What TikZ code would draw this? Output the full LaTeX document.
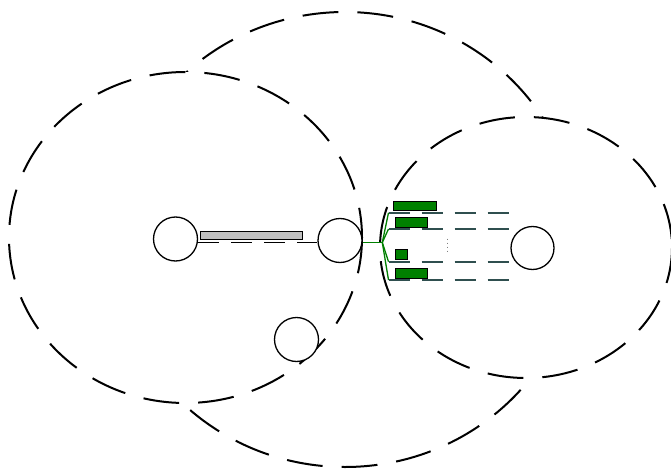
\documentclass[tikz,border=0pt]{standalone}
\usetikzlibrary{shapes.geometric}
\definecolor{dgreen}{RGB}{0,128,0}
\definecolor{dslate}{RGB}{47,79,79}
\definecolor{silverc}{RGB}{192,192,192}
\tikzset{
  region/.style={draw=black, line width=2pt, dash pattern=on 36pt off 19pt},
  regionfill/.style={region, fill=white},
  hostc/.style={circle, draw=black, line width=1.3pt, minimum size=44pt, inner sep=0pt, fill=white},
  gbox/.style={draw=black, line width=0.9pt, fill=dgreen, inner sep=0pt},
  gline/.style={draw=dgreen, line width=1.3pt},
  tline/.style={draw=dslate, line width=1.8pt, dash pattern=on 21pt off 12pt},
  bline/.style={draw=black, line width=1.5pt, dash pattern=on 21pt off 12pt},
}
\begin{document}
\begin{tikzpicture}[x=1pt,y=-1pt]
\useasboundingbox (0,0) rectangle (671,470);
% regions
\draw[region] (345,239.5) ellipse [x radius=234, y radius=227.5];
\draw[regionfill] (185.5,237.5) ellipse [x radius=176.5, y radius=165.5];
\draw[regionfill] (526,247.5) ellipse [x radius=146, y radius=130.5];
% hosts
\node[hostc] (h1) at (175.5,239) {};
\node[hostc] (h2) at (340,240.5) {};
\node[hostc] (h3) at (296.5,339.5) {};
\node[hostc, minimum size=43pt] (h4) at (532.5,248) {};
% link between h1 and h2
\draw[bline] (h1.east |- 0,242.5) -- (h2.west |- 0,242.5);
\node[draw=black, line width=0.9pt, fill=silverc, inner sep=0pt, minimum width=101.5pt, minimum height=8.3pt] (bar) at (251.5,235.2) {};
% green fan
\coordinate (j) at (382.3,242.5);
\coordinate (e0) at (h2.east |- 0,242.5);
\draw[gline] (e0) -- (j);
\foreach \i/\y in {1/212.7, 2/229, 3/261.7, 4/280} {
  \coordinate (s\i) at (388.5,\y);
  \coordinate (t\i) at (512,\y);
  \draw[gline] (j) -- (s\i);
  \draw[tline] (s\i) -- (t\i);
}
\node[gbox, minimum width=42.7pt, minimum height=9.3pt] (g1) at (414.7,205.7) {};
\node[gbox, minimum width=32pt, minimum height=9.7pt] (g2) at (411,222.2) {};
\node[gbox, minimum width=12pt, minimum height=10pt] (g3) at (401.7,254.3) {};
\node[gbox, minimum width=32pt, minimum height=9.6pt] (g4) at (411.7,273.5) {};
% vertical ellipsis
\coordinate (d1) at (447.3,238.5);
\coordinate (d2) at (447.3,252);
\draw[gray, line width=0.9pt, dash pattern=on 1.2pt off 2.8pt] (d1) -- (d2);
\end{tikzpicture}
\end{document}
